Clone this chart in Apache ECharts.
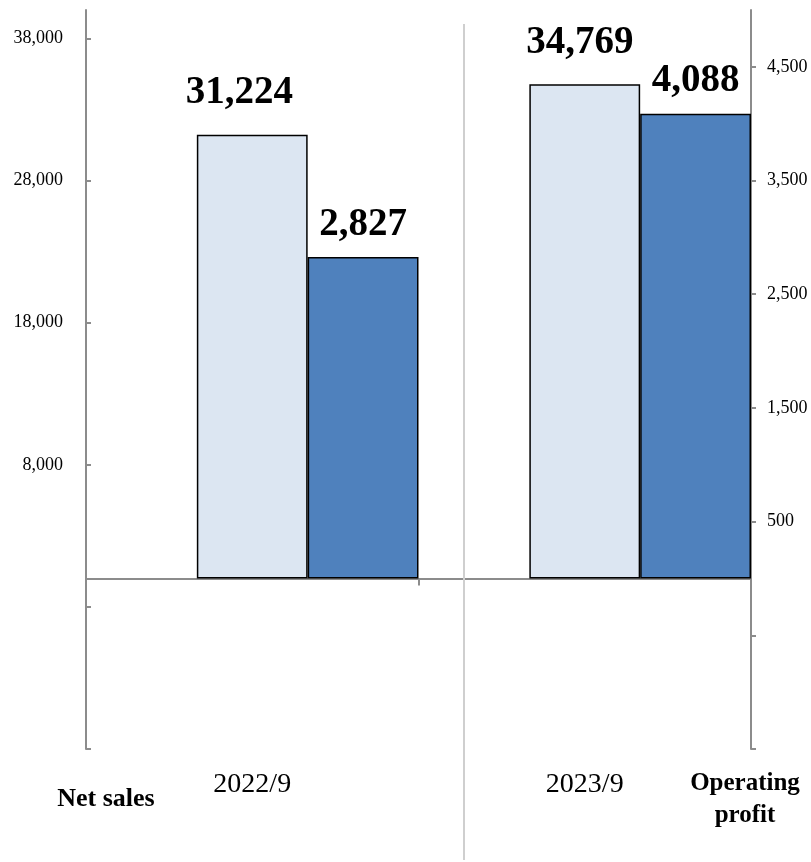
<!DOCTYPE html>
<html>
<head>
<meta charset="utf-8">
<script src="https://cdn.jsdelivr.net/npm/echarts@6/dist/echarts.min.js"></script>
<style>
html,body{margin:0;padding:0;background:#fff;}
#chart{width:811px;height:862px;}
</style>
</head>
<body>
<div id="chart"></div>
<script>
// ---- data ----
const categories = ['2022/9', '2023/9'];
const netSales = [31224, 34769];
const operatingProfit = [2827, 4088];
const leftTicks = [-12000, -2000, 8000, 18000, 28000, 38000];
const leftLabels = [8000, 18000, 28000, 38000];
const rightTicks = [-1500, -500, 500, 1500, 2500, 3500, 4500];
const rightLabels = [500, 1500, 2500, 3500, 4500];

// ---- styles ----
const SERIF = "'Times New Roman', 'Liberation Serif', serif";
const AXIS_GRAY = '#8c8c8c';
const netLabelShift = [-13, -5];
const fmt = v => Number(v).toLocaleString('en-US');

const chart = echarts.init(document.getElementById('chart'), null, {renderer: 'canvas'});

const option = {
  backgroundColor: '#ffffff',
  animation: false,
  grid: {left: 86, right: 60, top: 10, bottom: 113, containLabel: false, outerBoundsMode: 'none'},
  xAxis: [
    {
      type: 'category',
      data: categories,
      axisLine: {show: true, onZero: true, lineStyle: {color: AXIS_GRAY, width: 2}},
      axisTick: {show: true, length: 7, lineStyle: {color: AXIS_GRAY, width: 2}},
      axisLabel: {show: false},
      splitLine: {show: false}
    },
    {
      type: 'category',
      position: 'bottom',
      data: categories,
      axisLine: {show: false, onZero: false},
      axisTick: {show: false},
      axisLabel: {show: true, margin: 22, fontFamily: SERIF, fontSize: 28, color: '#000'},
      splitLine: {show: false}
    }
  ],
  yAxis: [
    {
      type: 'value', position: 'left', min: -12000, max: 40000,
      name: 'Net sales', nameLocation: 'start', nameGap: 37,
      nameTextStyle: {fontFamily: SERIF, fontSize: 26, fontWeight: 'bold', color: '#000', padding: [0, 0, 0, 40]},
      axisLine: {show: true, onZero: false, lineStyle: {color: AXIS_GRAY, width: 2}},
      axisTick: {show: true, inside: true, length: 5, customValues: leftTicks, lineStyle: {color: AXIS_GRAY, width: 2}},
      axisLabel: {customValues: leftLabels, formatter: fmt, margin: 23, fontFamily: SERIF, fontSize: 18, color: '#000'},
      splitLine: {show: false}
    },
    {
      type: 'value', position: 'right', min: -1500, max: 5000,
      name: 'Operating\nprofit', nameLocation: 'start', nameGap: 19,
      nameTextStyle: {fontFamily: SERIF, fontSize: 25, fontWeight: 'bold', color: '#000', lineHeight: 32, padding: [0, 12, 0, 0]},
      axisLine: {show: true, onZero: false, lineStyle: {color: AXIS_GRAY, width: 2}},
      axisTick: {show: true, inside: false, length: 5, customValues: rightTicks, lineStyle: {color: AXIS_GRAY, width: 2}},
      axisLabel: {customValues: rightLabels, formatter: fmt, margin: 16, fontFamily: SERIF, fontSize: 18, color: '#000'},
      splitLine: {show: false}
    }
  ],
  series: [
    {
      name: 'spacer', type: 'bar', xAxisIndex: 0, yAxisIndex: 0, silent: true,
      data: categories.map(() => '-'),
      barGap: '0%', barCategoryGap: '0%'
    },
    {
      name: 'Net sales', type: 'bar', xAxisIndex: 0, yAxisIndex: 0,
      data: netSales.map((v, i) => ({value: v, label: {offset: [netLabelShift[i], 0]}})),
      barGap: '0%', barCategoryGap: '0%',
      itemStyle: {color: '#dce6f2', borderColor: '#000', borderWidth: 1.5},
      label: {show: true, position: 'top', distance: 22, formatter: p => fmt(p.value),
        fontFamily: SERIF, fontSize: 39, fontWeight: 'bold', color: '#000'}
    },
    {
      name: 'Operating profit', type: 'bar', xAxisIndex: 0, yAxisIndex: 1,
      data: operatingProfit,
      barGap: '0%', barCategoryGap: '0%',
      itemStyle: {color: '#4f81bd', borderColor: '#000', borderWidth: 1.5},
      label: {show: true, position: 'top', distance: 13, formatter: p => fmt(p.value),
        fontFamily: SERIF, fontSize: 39, fontWeight: 'bold', color: '#000'}
    }
  ],
  graphic: [
    {type: 'line', shape: {x1: 464, y1: 24, x2: 464, y2: 860}, style: {stroke: '#cfcfcf', lineWidth: 2}, z: 100}
  ]
};
chart.setOption(option);
</script>
</body>
</html>
